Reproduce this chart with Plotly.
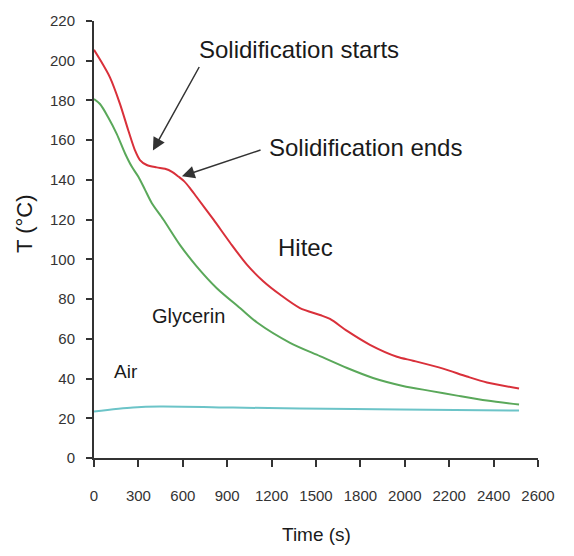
import plotly.graph_objects as go

# Time axis (evenly spaced tick positions, labelled as in the original)
tick_pos = [0, 260, 520, 780, 1040, 1300, 1560, 1820, 2080, 2340, 2600]
tick_labels = ["0", "300", "600", "900", "1200", "1500", "1800", "2000", "2200", "2400", "2600"]
y_ticks = [0, 20, 40, 60, 80, 100, 120, 140, 160, 180, 200, 220]

# Hitec (red)
hitec_t = [0, 35, 94, 152, 201, 240, 269, 309, 367, 416, 457, 494, 527, 562, 601, 699,
           796, 894, 991, 1089, 1206, 1323, 1382, 1482, 1616, 1774, 1868, 2044, 2184,
           2301, 2489]
hitec_T = [205.5, 200.6, 191.5, 178.3, 164.9, 154.9, 150, 147.5, 146.3, 145.6, 144.1,
           141.7, 139.4, 135.9, 131.4, 120.1, 108.5, 97.5, 89, 82.3, 75.5, 72, 70, 64,
           57, 51, 49, 45, 41, 38, 35]

# Glycerin (green)
gly_t = [0, 35, 82, 133, 182, 221, 259, 299, 338, 406, 504, 601, 719, 855, 955, 1148,
         1323, 1482, 1634, 1809, 1968, 2126, 2301, 2489]
gly_T = [180.7, 178.2, 171.7, 163.2, 153.3, 146.7, 141.7, 135, 128.4, 120.1, 107.2, 96.5,
         85.5, 75.5, 68.2, 58, 51.3, 45.3, 40.3, 36.3, 33.8, 31.4, 28.9, 26.9]

# Air (cyan)
air_t = [0, 228, 386, 814, 1206, 1792, 2489]
air_T = [23.4, 25.4, 25.9, 25.4, 24.9, 24.4, 23.9]

FONT = "Liberation Sans, Arial, sans-serif"
AX = "#333333"
TXT = "#1a1a1a"

fig = go.Figure()
fig.add_trace(go.Scatter(x=air_t, y=air_T, mode="lines", name="Air",
                         line=dict(color="#6cc4c8", width=2, shape="spline", smoothing=0.8)))
fig.add_trace(go.Scatter(x=gly_t, y=gly_T, mode="lines", name="Glycerin",
                         line=dict(color="#5aa85a", width=2, shape="spline", smoothing=0.8)))
fig.add_trace(go.Scatter(x=hitec_t, y=hitec_T, mode="lines", name="Hitec",
                         line=dict(color="#d9303a", width=2, shape="spline", smoothing=0.8)))

texts = [
    ("Solidification starts", 1198, 205.5, 24),
    ("Solidification ends", 1590, 156.3, 24),
    ("Hitec", 1236, 106, 24),
    ("Glycerin", 556, 71.7, 20),
    ("Air", 190, 43.8, 19),
]
for t, x, y, s in texts:
    fig.add_annotation(x=x, y=y, xref="x", yref="y", text=t, showarrow=False,
                       xanchor="center", yanchor="middle",
                       font=dict(family=FONT, size=s, color=TXT))

arrows = [
    (345, 154.8, 621, 197.6),
    (515, 141.8, 984, 155.3),
]
for x, y, ax, ay in arrows:
    fig.add_annotation(x=x, y=y, ax=ax, ay=ay, xref="x", yref="y", axref="x", ayref="y",
                       text="", showarrow=True, arrowhead=2, arrowsize=1.7,
                       arrowwidth=1.5, arrowcolor="#333333", standoff=0)

fig.add_annotation(text="T (°C)", xref="paper", yref="paper", x=-0.155, y=0.536,
                   xanchor="center", yanchor="middle",
                   textangle=-90, showarrow=False,
                   font=dict(family=FONT, size=22, color=TXT))
fig.add_annotation(text="Time (s)", xref="paper", yref="paper", x=0.5, y=-0.176,
                   xanchor="center", yanchor="middle",
                   showarrow=False, font=dict(family=FONT, size=19, color=TXT))

fig.update_layout(
    width=574, height=556,
    margin=dict(l=94, r=36, t=16, b=98),
    plot_bgcolor="white", paper_bgcolor="white",
    showlegend=False,
    font=dict(family=FONT, color="#333333"),
    xaxis=dict(range=[0, 2600], tickvals=tick_pos, ticktext=tick_labels,
               showgrid=False, zeroline=False, showline=True, linecolor=AX, linewidth=2,
               ticks="outside", ticklen=7, tickwidth=2, tickcolor=AX,
               tickfont=dict(family=FONT, size=15, color="#333333"),
               ticklabelstandoff=16),
    yaxis=dict(range=[0, 220], tickvals=y_ticks,
               showgrid=False, zeroline=False, showline=True, linecolor=AX, linewidth=2,
               ticks="outside", ticklen=6, tickwidth=2, tickcolor=AX,
               tickfont=dict(family=FONT, size=15, color="#333333"),
               ticklabelstandoff=8),
)

fig.write_html("out.html")
